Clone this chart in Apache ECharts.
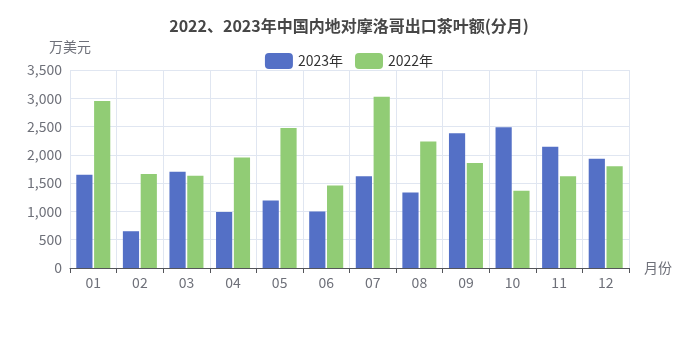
<!DOCTYPE html>
<html><head><meta charset="utf-8">
<script src="https://cdn.jsdelivr.net/npm/echarts@6/dist/echarts.min.js"></script>
<style>html,body{margin:0;padding:0;background:#fff}#c{width:698px;height:349px}</style>
</head><body><div id="c"></div>
<script>
const categories = ['01','02','03','04','05','06','07','08','09','10','11','12'];
const values2023 = [1650, 650, 1700, 990, 1195, 1000, 1620, 1335, 2380, 2490, 2145, 1930];
const values2022 = [2950, 1660, 1630, 1955, 2475, 1460, 3025, 2235, 1855, 1365, 1620, 1800];
const yTicks = { min: 0, max: 3500, interval: 500 };
const FONT = '"Noto Sans CJK SC", "Noto Sans", sans-serif';
const chart = echarts.init(document.getElementById('c'));
chart.setOption({
  animation: false,
  textStyle: { fontFamily: FONT },
  title: {
    text: '2022、2023年中国内地对摩洛哥出口茶叶额(分月)',
    left: 'center', top: 13,
    textStyle: { fontSize: 16, fontWeight: 'bold', color: '#464646', fontFamily: FONT }
  },
  legend: {
    data: ['2023年', '2022年'],
    top: 48, left: 'center',
    itemWidth: 28, itemHeight: 16, itemGap: 12,
    textStyle: { fontSize: 14, color: '#333', fontFamily: FONT }
  },
  grid: { left: 70, right: 69, top: 70, bottom: 81 },
  xAxis: {
    type: 'category', data: categories,
    name: '月份', nameGap: 15,
    nameTextStyle: { fontSize: 14, color: '#6e7079' },
    axisLabel: { fontSize: 14, color: '#6e7079' },
    axisTick: { show: true },
    splitLine: { show: true, lineStyle: { color: '#e0e6f1' } }
  },
  yAxis: {
    type: 'value', min: yTicks.min, max: yTicks.max, interval: yTicks.interval,
    name: '万美元', nameGap: 16,
    nameTextStyle: { fontSize: 14, color: '#6e7079' },
    axisLabel: { fontSize: 14, color: '#6e7079', formatter: v => v.toLocaleString('en-US') },
    splitLine: { lineStyle: { color: '#e0e6f1' } }
  },
  series: [
    { name: '2023年', type: 'bar', data: values2023, itemStyle: { color: '#5470c6' } },
    { name: '2022年', type: 'bar', data: values2022, itemStyle: { color: '#91cc75' } }
  ]
});
</script></body></html>
